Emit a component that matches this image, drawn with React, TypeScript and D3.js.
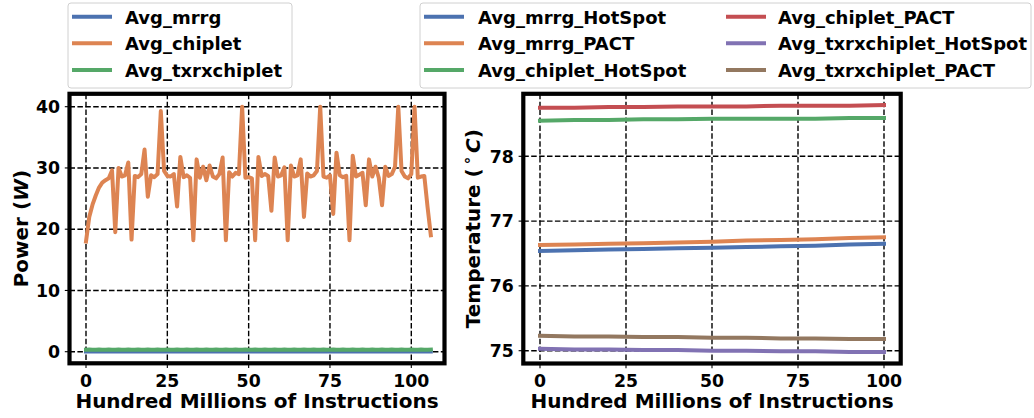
import React from 'react';
import * as d3 from 'd3';

// ---------- Data ----------
const powerX: number[] = d3.range(0, 107);

const avgChiplet: number[] = [
  18.0, 22.0, 24.0, 25.5, 26.8, 27.6, 28.0, 28.3, 29.6, 19.5,
  30.0, 28.6, 28.8, 30.9, 18.3, 28.7, 28.5, 29.0, 33.0, 25.3,
  28.8, 28.5, 29.0, 39.3, 29.5, 28.7, 28.6, 29.0, 23.7, 31.8,
  28.5, 28.8, 28.4, 18.2, 31.4, 28.4, 30.2, 28.0, 30.4, 28.6,
  28.3, 29.0, 31.7, 18.2, 29.3, 28.6, 29.2, 29.0, 40.0, 28.4,
  28.5, 28.3, 18.2, 31.8, 28.7, 29.0, 28.7, 23.0, 31.7, 28.6,
  28.8, 30.1, 18.2, 30.4, 28.6, 28.8, 31.4, 22.0, 29.1, 28.6,
  28.8, 29.5, 40.0, 28.6, 28.4, 28.8, 22.5, 32.5, 28.8, 28.5,
  28.7, 18.2, 32.0, 28.6, 28.9, 29.2, 23.9, 31.4, 28.6, 30.2,
  28.4, 23.9, 30.2, 28.7, 29.0, 30.2, 40.0, 29.5, 28.6, 28.3,
  29.0, 40.0, 28.4, 28.6, 28.7, 23.6, 19.0,
];

const avgMrrg: number[] = [
  0.02, 0.02, 0.02, 0.02, 0.02, 0.02, 0.02, 0.02, 0.02, 0.02,
  0.02, 0.02, 0.02, 0.02, 0.02, 0.02, 0.02, 0.02, 0.02, 0.02,
  0.02, 0.02, 0.02, 0.02, 0.02, 0.02, 0.02, 0.02, 0.02, 0.02,
  0.02, 0.02, 0.02, 0.02, 0.02, 0.02, 0.02, 0.02, 0.02, 0.02,
  0.02, 0.02, 0.02, 0.02, 0.02, 0.02, 0.02, 0.02, 0.02, 0.02,
  0.02, 0.02, 0.02, 0.02, 0.02, 0.02, 0.02, 0.02, 0.02, 0.02,
  0.02, 0.02, 0.02, 0.02, 0.02, 0.02, 0.02, 0.02, 0.02, 0.02,
  0.02, 0.02, 0.02, 0.02, 0.02, 0.02, 0.02, 0.02, 0.02, 0.02,
  0.02, 0.02, 0.02, 0.02, 0.02, 0.02, 0.02, 0.02, 0.02, 0.02,
  0.02, 0.02, 0.02, 0.02, 0.02, 0.02, 0.02, 0.02, 0.02, 0.02,
  0.02, 0.02, 0.02, 0.02, 0.02, 0.02, 0.02,
];

const avgTxrxChiplet: number[] = [
  0.33, 0.34, 0.33, 0.33, 0.34, 0.33, 0.33, 0.34, 0.33, 0.33,
  0.34, 0.33, 0.33, 0.34, 0.33, 0.33, 0.34, 0.33, 0.33, 0.34,
  0.33, 0.33, 0.34, 0.33, 0.33, 0.34, 0.33, 0.33, 0.34, 0.33,
  0.33, 0.34, 0.33, 0.33, 0.34, 0.33, 0.33, 0.34, 0.33, 0.33,
  0.34, 0.33, 0.33, 0.34, 0.33, 0.33, 0.34, 0.33, 0.33, 0.34,
  0.33, 0.33, 0.34, 0.33, 0.33, 0.34, 0.33, 0.33, 0.34, 0.33,
  0.33, 0.34, 0.33, 0.33, 0.34, 0.33, 0.33, 0.34, 0.33, 0.33,
  0.34, 0.33, 0.33, 0.34, 0.33, 0.33, 0.34, 0.33, 0.33, 0.34,
  0.33, 0.33, 0.34, 0.33, 0.33, 0.34, 0.33, 0.33, 0.34, 0.33,
  0.33, 0.34, 0.33, 0.33, 0.34, 0.33, 0.33, 0.34, 0.33, 0.33,
  0.34, 0.33, 0.33, 0.34, 0.33, 0.33, 0.34,
];

const tempX: number[] = [0, 10, 20, 30, 40, 50, 60, 70, 80, 90, 100];
const mrrgHotSpot: number[] = [76.54, 76.55, 76.56, 76.57, 76.58, 76.59, 76.60, 76.61, 76.62, 76.64, 76.65];
const mrrgPACT: number[] = [76.63, 76.64, 76.65, 76.66, 76.67, 76.68, 76.70, 76.71, 76.72, 76.74, 76.75];
const chipletHotSpot: number[] = [78.55, 78.56, 78.56, 78.57, 78.57, 78.58, 78.58, 78.58, 78.58, 78.59, 78.59];
const chipletPACT: number[] = [78.75, 78.75, 78.76, 78.76, 78.77, 78.77, 78.77, 78.78, 78.78, 78.78, 78.79];
const txrxHotSpot: number[] = [75.03, 75.02, 75.02, 75.01, 75.01, 75.00, 75.00, 74.99, 74.99, 74.98, 74.98];
const txrxPACT: number[] = [75.23, 75.22, 75.22, 75.21, 75.21, 75.20, 75.20, 75.19, 75.19, 75.18, 75.18];

const leftLegendLabels = ['Avg_mrrg', 'Avg_chiplet', 'Avg_txrxchiplet'];
const rightLegendLabels = [
  'Avg_mrrg_HotSpot', 'Avg_mrrg_PACT', 'Avg_chiplet_HotSpot',
  'Avg_chiplet_PACT', 'Avg_txrxchiplet_HotSpot', 'Avg_txrxchiplet_PACT',
];
const xTicks = [0, 25, 50, 75, 100];
const powerTicks = [0, 10, 20, 30, 40];
const tempTicks = [75, 76, 77, 78];

const C = {
  blue: '#4C72B0', orange: '#DD8452', green: '#55A868',
  red: '#C44E52', purple: '#8172B3', brown: '#937860',
};

const FONT = "'DejaVu Sans', Verdana, sans-serif";

type Frame = { l: number; r: number; t: number; b: number };

function Panel(props: {
  frame: Frame;
  xs: d3.ScaleLinear<number, number>;
  ys: d3.ScaleLinear<number, number>;
  yTicks: number[];
  series: { x: number[]; y: number[]; color: string }[];
}) {
  const { frame, xs, ys, yTicks, series } = props;
  const tickLen = 4.7;
  const line = (x: number[], y: number[]) =>
    d3.line<number>().x((_, i) => xs(x[i])).y((d) => ys(d))(y) || '';
  return (
    <g>
      {xTicks.map((t) => (
        <line key={'gx' + t} x1={xs(t)} x2={xs(t)} y1={frame.t} y2={frame.b}
          stroke="#000" strokeWidth={1.4} strokeDasharray="5.5,2.4" />
      ))}
      {yTicks.map((t) => (
        <line key={'gy' + t} x1={frame.l} x2={frame.r} y1={ys(t)} y2={ys(t)}
          stroke="#000" strokeWidth={1.4} strokeDasharray="5.5,2.4" />
      ))}
      {series.map((s, i) => (
        <path key={i} d={line(s.x, s.y)} fill="none" stroke={s.color}
          strokeWidth={4} strokeLinejoin="round" strokeLinecap="square" />
      ))}
      {xTicks.map((t) => (
        <g key={'tx' + t}>
          <line x1={xs(t)} x2={xs(t)} y1={frame.b} y2={frame.b + tickLen} stroke="#000" strokeWidth={1.1} />
          <text x={xs(t)} y={387} textAnchor="middle" fontSize={17.3} fontWeight="bold" fontFamily={FONT}>{t}</text>
        </g>
      ))}
      {yTicks.map((t) => (
        <g key={'ty' + t}>
          <line x1={frame.l - tickLen} x2={frame.l} y1={ys(t)} y2={ys(t)} stroke="#000" strokeWidth={1.1} />
          <text x={frame.l - tickLen - 4.7} y={ys(t) + 6.2} textAnchor="end" fontSize={17.3} fontWeight="bold" fontFamily={FONT}>{t}</text>
        </g>
      ))}
      <rect x={frame.l} y={frame.t} width={frame.r - frame.l} height={frame.b - frame.t}
        fill="none" stroke="#000" strokeWidth={4.2} />
      <text x={(frame.l + frame.r) / 2} y={408} textAnchor="middle" fontSize={20} fontWeight="bold" fontFamily={FONT}>
        Hundred Millions of Instructions
      </text>
    </g>
  );
}

function Legend(props: { x: number; y: number; w: number; h: number; items: { label: string; color: string; hx: number; tx: number; row: number }[] }) {
  const rowsHandle = [16.7, 43.3, 70];
  return (
    <g>
      <rect x={props.x} y={props.y} width={props.w} height={props.h} rx={3} ry={3}
        fill="#fff" stroke="#d0d0d0" strokeWidth={1} />
      {props.items.map((it, i) => (
        <g key={i}>
          <line x1={it.hx} x2={it.hx + 40} y1={rowsHandle[it.row]} y2={rowsHandle[it.row]} stroke={it.color} strokeWidth={4} />
          <text x={it.tx} y={rowsHandle[it.row] + 7} fontSize={18} fontWeight="bold" fontFamily={FONT}>{it.label}</text>
        </g>
      ))}
    </g>
  );
}

export default function App() {
  const lFrame: Frame = { l: 69.5, r: 444.5, t: 93.8, b: 363.3 };
  const rFrame: Frame = { l: 523.3, r: 900.7, t: 93.8, b: 363.5 };
  const lx = d3.scaleLinear().domain([0, 100]).range([86, 411.3]);
  const ly = d3.scaleLinear().domain([0, 40]).range([351.7, 106.7]);
  const rx = d3.scaleLinear().domain([0, 100]).range([540, 884]);
  const ry = d3.scaleLinear().domain([75, 78]).range([350.7, 156.3]);

  const leftColors = [C.blue, C.orange, C.green];
  const rightColors = [C.blue, C.orange, C.green, C.red, C.purple, C.brown];

  return (
    <svg width={1034} height={418} style={{ position: 'absolute', left: 0, top: 0, background: '#fff' }}>
      <rect x={0} y={0} width={1034} height={418} fill="#fff" />
      <Panel frame={lFrame} xs={lx} ys={ly} yTicks={powerTicks}
        series={[
          { x: powerX, y: avgMrrg, color: C.blue },
          { x: powerX, y: avgChiplet, color: C.orange },
          { x: powerX, y: avgTxrxChiplet, color: C.green },
        ]} />
      <Panel frame={rFrame} xs={rx} ys={ry} yTicks={tempTicks}
        series={[
          { x: tempX, y: mrrgHotSpot, color: C.blue },
          { x: tempX, y: mrrgPACT, color: C.orange },
          { x: tempX, y: chipletHotSpot, color: C.green },
          { x: tempX, y: chipletPACT, color: C.red },
          { x: tempX, y: txrxHotSpot, color: C.purple },
          { x: tempX, y: txrxPACT, color: C.brown },
        ]} />
      <text transform={`translate(28,${(lFrame.t + lFrame.b) / 2}) rotate(-90)`} textAnchor="middle"
        fontSize={20} fontWeight="bold" fontFamily={FONT}>
        Power (<tspan fontStyle="italic">W</tspan>)
      </text>
      <text transform={`translate(480,${(rFrame.t + rFrame.b) / 2}) rotate(-90)`} textAnchor="middle"
        fontSize={20} fontWeight="bold" fontFamily={FONT}>
        Temperature (<tspan fontSize={15} dy={-8} dx={3}>∘</tspan><tspan dy={8} dx={3} fontStyle="italic">C</tspan>)
      </text>
      <Legend x={68} y={3} w={224} h={85}
        items={leftLegendLabels.map((l, i) => ({ label: l, color: leftColors[i], hx: 72, tx: 125, row: i }))} />
      <Legend x={420} y={3} w={611} h={85}
        items={rightLegendLabels.map((l, i) => ({
          label: l, color: rightColors[i],
          hx: i < 3 ? 424 : 726, tx: i < 3 ? 478 : 778, row: i % 3,
        }))} />
    </svg>
  );
}
